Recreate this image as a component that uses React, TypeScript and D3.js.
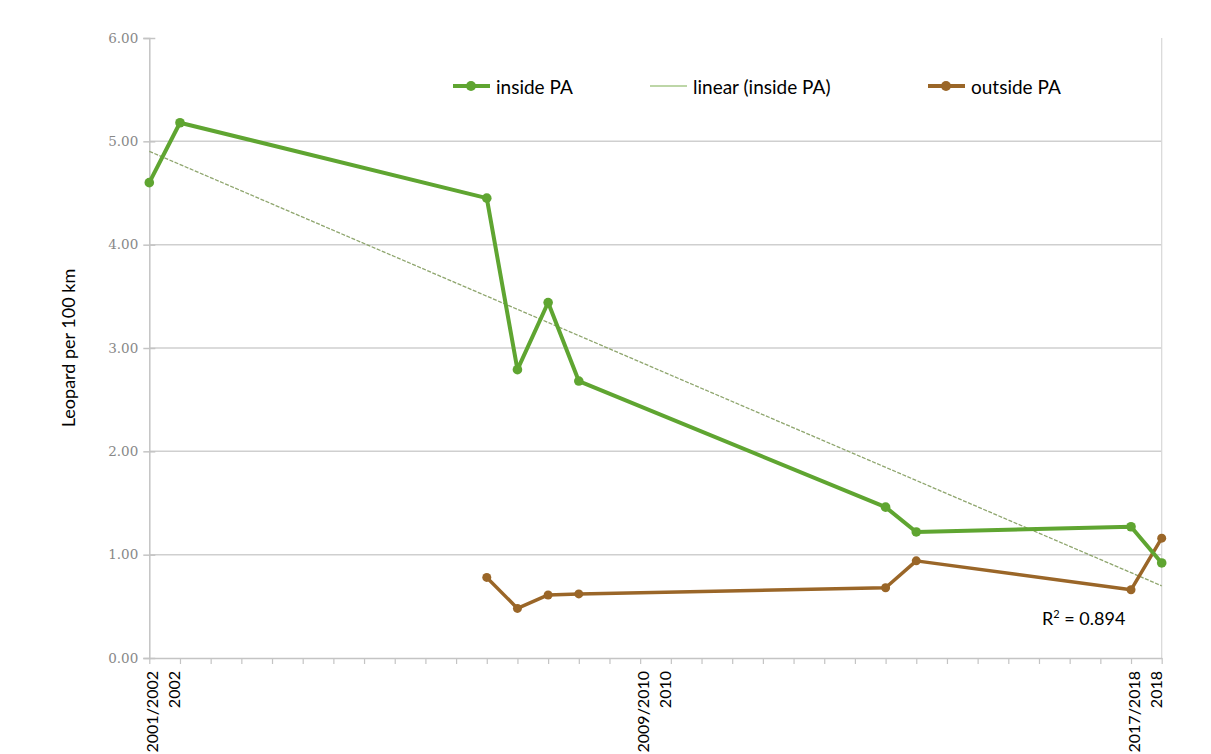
import React, { useEffect, useRef } from "react";
import * as d3 from "d3";

// category slots on the x axis (34 of them, most empty)
const categoryCount = 34;
const tickIndex = [0, 1, 16, 17, 32, 33];
const tickLabels = ["2001/2002", "2002", "2009/2010", "2010", "2017/2018", "2018"];

const insideIdx = [0, 1, 11, 12, 13, 14, 24, 25, 32, 33];
const insideVals = [4.6, 5.18, 4.45, 2.79, 3.44, 2.68, 1.46, 1.22, 1.27, 0.92];

const outsideIdx = [11, 12, 13, 14, 24, 25, 32, 33];
const outsideVals = [0.78, 0.48, 0.61, 0.62, 0.68, 0.94, 0.66, 1.16];

const yTicks = [0, 1, 2, 3, 4, 5, 6];

const GREEN = "#5fa531";
const BROWN = "#9a6628";
const TREND = "#8fa66e";

export default function App() {
  const ref = useRef<SVGSVGElement>(null);

  useEffect(() => {
    const svg = d3.select(ref.current);
    svg.selectAll("*").remove();

    const left = 149.3, right = 1161.7, top = 38, bottom = 658;
    const x = d3.scaleLinear().domain([0, categoryCount - 1]).range([left, right]);
    const y = d3.scaleLinear().domain([0, 6]).range([bottom, top]);
    const font = "Lato, 'Open Sans', sans-serif";

    // gridlines
    svg.append("g")
      .selectAll("line")
      .data(yTicks.filter((t) => t > 0 && t < 6))
      .enter().append("line")
      .attr("x1", left).attr("x2", right)
      .attr("y1", (d) => y(d)).attr("y2", (d) => y(d))
      .attr("stroke", "#cfcfcf").attr("stroke-width", 1.5);

    // right border
    svg.append("line")
      .attr("x1", right).attr("x2", right).attr("y1", top).attr("y2", bottom)
      .attr("stroke", "#d8d8d8").attr("stroke-width", 1.2);

    // y axis
    const yAxis = svg.append("g").attr("transform", `translate(${left},0)`)
      .call(d3.axisLeft(y).tickValues(yTicks).tickFormat(d3.format(".2f")).tickSize(6));
    yAxis.select(".domain").attr("stroke", "#c4c4c4").attr("stroke-width", 1.5);
    yAxis.selectAll(".tick line").attr("stroke", "#c4c4c4").attr("stroke-width", 1.5).attr("x2", 6).attr("x1", -6);
    yAxis.selectAll(".tick text")
      .attr("x", -11)
      .attr("fill", "#888")
      .style("font-family", "'DejaVu Serif', serif")
      .style("font-size", "13.5px");

    // x axis
    const xAxis = svg.append("g").attr("transform", `translate(0,${bottom})`)
      .call(d3.axisBottom(x).tickValues(d3.range(categoryCount)).tickFormat(() => "").tickSize(6).tickSizeOuter(0));
    xAxis.select(".domain").attr("stroke", "#c4c4c4").attr("stroke-width", 1.5);
    xAxis.selectAll(".tick line").attr("stroke", "#c4c4c4").attr("stroke-width", 1.2);

    svg.append("g")
      .selectAll("text")
      .data(tickIndex)
      .enter().append("text")
      .attr("transform", (d, i) => `translate(${x(d) + (i % 2 === 0 ? 2 : -6.5)},671) rotate(-90)`)
      .attr("text-anchor", "end")
      .attr("dominant-baseline", "central")
      .style("font-family", font)
      .style("font-size", "16px")
      .attr("fill", "#000")
      .text((d, i) => tickLabels[i]);

    // y title
    svg.append("text")
      .attr("transform", `translate(68,${(top + bottom) / 2}) rotate(-90)`)
      .attr("text-anchor", "middle")
      .attr("dominant-baseline", "central")
      .style("font-family", font)
      .style("font-size", "18px")
      .text("Leopard per 100 km");

    // trend line (least squares over category index)
    const mx = d3.mean(insideIdx) as number;
    const my = d3.mean(insideVals) as number;
    const sxy = d3.sum(insideIdx, (d, i) => (d - mx) * (insideVals[i] - my));
    const sxx = d3.sum(insideIdx, (d) => (d - mx) ** 2);
    const slope = sxy / sxx;
    const icpt = my - slope * mx;
    svg.append("line")
      .attr("x1", x(0)).attr("y1", y(icpt))
      .attr("x2", x(categoryCount - 1)).attr("y2", y(icpt + slope * (categoryCount - 1)))
      .attr("stroke", TREND).attr("stroke-width", 1.3).attr("stroke-dasharray", "4,1.5");

    const line = d3.line<[number, number]>().x((d) => x(d[0])).y((d) => y(d[1]));

    const drawSeries = (idx: number[], vals: number[], color: string, w: number, r: number) => {
      const pts = idx.map((d, i) => [d, vals[i]] as [number, number]);
      svg.append("path").datum(pts)
        .attr("d", line).attr("fill", "none")
        .attr("stroke", color).attr("stroke-width", w).attr("stroke-linejoin", "round");
      svg.append("g").selectAll("circle").data(pts).enter().append("circle")
        .attr("cx", (d) => x(d[0])).attr("cy", (d) => y(d[1]))
        .attr("r", r).attr("fill", color);
    };
    drawSeries(outsideIdx, outsideVals, BROWN, 3.5, 4.5);
    drawSeries(insideIdx, insideVals, GREEN, 4, 4.8);

    // R² label
    svg.append("text")
      .attr("x", 1042).attr("y", 625)
      .style("font-family", font).style("font-size", "18px")
      .html("R<tspan dy='-7' font-size='11px'>2</tspan><tspan dy='7'> = 0.894</tspan>");

    // legend
    const legend = [
      { x: 453, label: "inside PA", color: GREEN, marker: true, w: 4 },
      { x: 650, label: "linear (inside PA)", color: "#a7c98a", marker: false, w: 1.6 },
      { x: 928, label: "outside PA", color: BROWN, marker: true, w: 4 },
    ];
    const lg = svg.append("g").selectAll("g").data(legend).enter().append("g")
      .attr("transform", (d) => `translate(${d.x},86)`);
    lg.append("line").attr("x1", 0).attr("x2", 37)
      .attr("stroke", (d) => d.color).attr("stroke-width", (d) => d.w);
    lg.filter((d) => d.marker).append("circle").attr("cx", 18).attr("r", 5).attr("fill", (d) => d.color);
    lg.append("text").attr("x", 43).attr("dominant-baseline", "central")
      .style("font-family", font).style("font-size", "19px")
      .text((d) => d.label);
  }, []);

  return (
    <svg
      ref={ref}
      width={1211}
      height={754}
      style={{ position: "absolute", left: 0, top: 0, background: "#fff" }}
    />
  );
}
